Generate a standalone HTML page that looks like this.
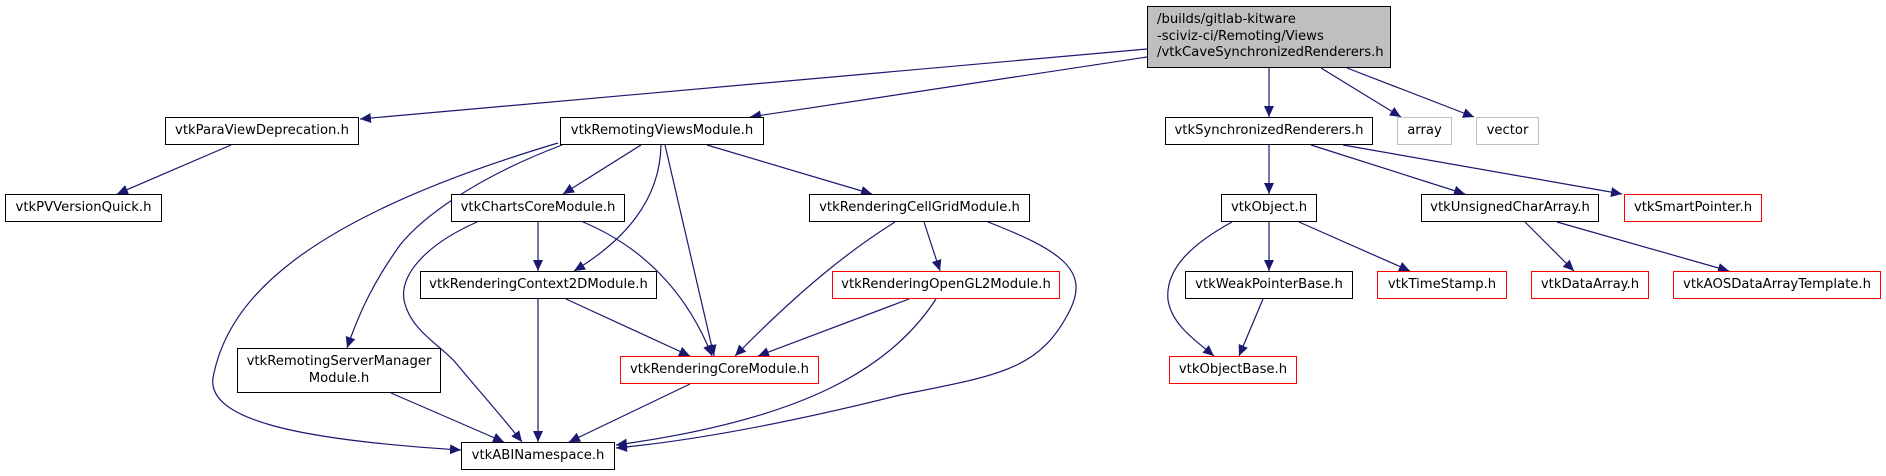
<!DOCTYPE html>
<html><head><meta charset="utf-8"><style>
body{margin:0;width:1886px;height:476px;background:#fff;position:relative;overflow:hidden;font-family:"DejaVu Sans","Liberation Sans",sans-serif;}
.n{position:absolute;box-sizing:border-box;border:1.3px solid #000;background:#fff;font-size:13.2px;color:#000;display:flex;align-items:center;justify-content:center;text-align:center;line-height:16.5px;white-space:nowrap}
.r{border-color:#ff0000}
.g{border-color:#bfbfbf}
svg{position:absolute;left:0;top:0}
</style></head><body>
<svg width="1886" height="476" viewBox="0 0 1886 476">
<defs><marker id="a" markerUnits="userSpaceOnUse" markerWidth="12" markerHeight="10" refX="11" refY="5" orient="auto"><path d="M0,0 L11,5 L0,10 Z" fill="#191970"/></marker></defs>
<g fill="none" stroke="#191970" stroke-width="1.2" marker-end="url(#a)">
<path d="M1147,49 L360,119"/>
<path d="M1147,57 L750,117"/>
<path d="M1269,68 L1269,117"/>
<path d="M1321,68 L1401,117"/>
<path d="M1347,68 L1474,117"/>
<path d="M231,145 L117,194"/>
<path d="M641,145 L563,194"/>
<path d="M661,145 C660,200 625,240 574,271"/>
<path d="M665,145 L714,356"/>
<path d="M707,145 L872,194"/>
<path d="M562,145 C470,180 420,220 400,245 C375,280 360,310 347,348"/>
<path d="M558,143 C300,220 230,300 214,373 C200,420 300,440 461,450"/>
<path d="M538,222 L538,271"/>
<path d="M583,222 C650,250 690,300 712,356"/>
<path d="M477,222 C425,245 400,275 404,300 C410,330 440,345 455,362 C480,392 505,420 522,442"/>
<path d="M566,299 L690,356"/>
<path d="M538,299 L538,442"/>
<path d="M391,393 L504,442"/>
<path d="M690,384 L569,442"/>
<path d="M895,222 C850,250 800,290 735,356"/>
<path d="M924,222 L940,271"/>
<path d="M988,222 C1060,250 1090,270 1070,310 C1040,370 1000,375 900,395 C800,420 700,440 616,448"/>
<path d="M909,299 L758,356"/>
<path d="M936,299 C890,370 800,420 616,445"/>
<path d="M1269,145 L1269,194"/>
<path d="M1311,145 L1465,194"/>
<path d="M1343,145 L1622,194"/>
<path d="M1269,222 L1269,271"/>
<path d="M1299,222 L1410,271"/>
<path d="M1232,222 C1190,245 1165,270 1168,300 C1172,325 1195,340 1214,356"/>
<path d="M1263,299 L1239,356"/>
<path d="M1525,222 L1574,271"/>
<path d="M1557,222 L1729,271"/>
</g></svg>
<div class="n" style="left:1147px;top:6px;width:244px;height:62px;background:#bfbfbf;justify-content:flex-start;text-align:left;padding-left:9px">/builds/gitlab-kitware<br>-sciviz-ci/Remoting/Views<br>/vtkCaveSynchronizedRenderers.h</div>
<div class="n" style="left:165px;top:117px;width:194px;height:28px">vtkParaViewDeprecation.h</div>
<div class="n" style="left:5px;top:194px;width:157px;height:28px">vtkPVVersionQuick.h</div>
<div class="n" style="left:560px;top:117px;width:204px;height:28px">vtkRemotingViewsModule.h</div>
<div class="n" style="left:451px;top:194px;width:174px;height:28px">vtkChartsCoreModule.h</div>
<div class="n" style="left:420px;top:271px;width:237px;height:28px">vtkRenderingContext2DModule.h</div>
<div class="n" style="left:237px;top:348px;width:204px;height:45px">vtkRemotingServerManager<br>Module.h</div>
<div class="n r" style="left:620px;top:356px;width:199px;height:28px">vtkRenderingCoreModule.h</div>
<div class="n" style="left:461px;top:442px;width:154px;height:28px">vtkABINamespace.h</div>
<div class="n" style="left:809px;top:194px;width:221px;height:28px">vtkRenderingCellGridModule.h</div>
<div class="n r" style="left:832px;top:271px;width:228px;height:28px">vtkRenderingOpenGL2Module.h</div>
<div class="n" style="left:1165px;top:117px;width:208px;height:28px">vtkSynchronizedRenderers.h</div>
<div class="n g" style="left:1397px;top:117px;width:55px;height:28px">array</div>
<div class="n g" style="left:1476px;top:117px;width:63px;height:28px">vector</div>
<div class="n" style="left:1221px;top:194px;width:96px;height:28px">vtkObject.h</div>
<div class="n" style="left:1421px;top:194px;width:178px;height:28px">vtkUnsignedCharArray.h</div>
<div class="n r" style="left:1624px;top:194px;width:138px;height:28px">vtkSmartPointer.h</div>
<div class="n" style="left:1185px;top:271px;width:168px;height:28px">vtkWeakPointerBase.h</div>
<div class="n r" style="left:1377px;top:271px;width:130px;height:28px">vtkTimeStamp.h</div>
<div class="n r" style="left:1531px;top:271px;width:118px;height:28px">vtkDataArray.h</div>
<div class="n r" style="left:1673px;top:271px;width:208px;height:28px">vtkAOSDataArrayTemplate.h</div>
<div class="n r" style="left:1169px;top:356px;width:128px;height:28px">vtkObjectBase.h</div>
</body></html>
